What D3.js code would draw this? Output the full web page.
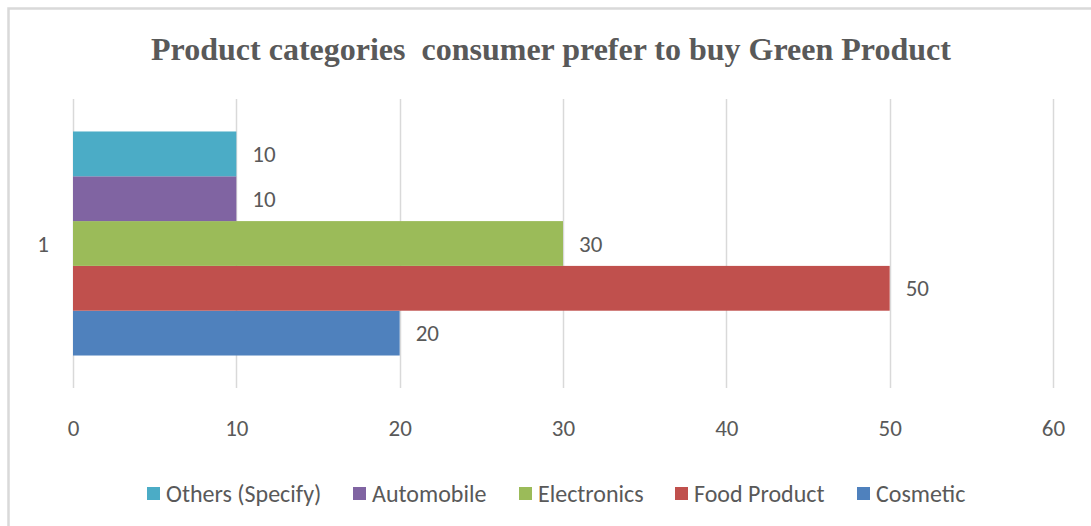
<!DOCTYPE html>
<html>
<head>
<meta charset="utf-8">
<script src="https://cdn.jsdelivr.net/npm/d3@7"></script>
<style>
  html, body { margin: 0; padding: 0; background: #fff; }
  svg { display: block; }
</style>
</head>
<body>
<svg id="chart" width="1091" height="526"></svg>
<script>
// Survey responses: product categories where consumers prefer green products
const categories = ["1"];
const seriesNames = ["Cosmetic", "Food Product", "Electronics", "Automobile", "Others (Specify)"];
const seriesValues = [20, 50, 30, 10, 10];
const seriesColors = ["#4f81bd", "#c0504d", "#9bbb59", "#8064a2", "#4bacc6"];
const xTicks = [0, 10, 20, 30, 40, 50, 60];
const titleText = "Product categories  consumer prefer to buy Green Product";

const svg = d3.select("#chart");
const textColor = "#595959";
const gridColor = "#d9d9d9";
const bodyFont = "Carlito, Calibri, 'Open Sans', sans-serif";
const bodySize = 23;
const legendSize = 24;

// Outer chart frame
svg.append("rect")
  .attr("x", 8.5).attr("y", 8.5)
  .attr("width", 1200).attr("height", 600)
  .attr("fill", "#fff")
  .attr("stroke", gridColor).attr("stroke-width", 2.5);

// Title
svg.append("text")
  .attr("x", 551).attr("y", 60)
  .attr("text-anchor", "middle")
  .style("white-space", "pre")
  .attr("font-family", "'Liberation Serif', 'Times New Roman', serif")
  .attr("font-weight", "bold")
  .attr("font-size", 32)
  .attr("fill", textColor)
  .text(titleText);

const plot = { left: 73, right: 1053, top: 99, bottom: 388 };

const x = d3.scaleLinear().domain([0, 60]).range([plot.left, plot.right]);
const y = d3.scaleBand().domain(categories).range([plot.top, plot.bottom]).paddingInner(0).paddingOuter(0.145);

// Bars inside the category band: first series at the bottom
const inner = d3.scaleBand()
  .domain(d3.range(seriesNames.length).reverse())
  .range([0, y.bandwidth()]);

// Vertical gridlines
svg.append("g")
  .selectAll("line")
  .data(xTicks)
  .join("line")
  .attr("x1", d => Math.round(x(d)) + 0.5).attr("x2", d => Math.round(x(d)) + 0.5)
  .attr("y1", plot.top).attr("y2", plot.bottom)
  .attr("stroke", gridColor).attr("stroke-width", 1.5);

// X axis tick labels
const xAxis = d3.axisBottom(x).tickValues(xTicks).tickSize(0).tickPadding(0);
const xg = svg.append("g").attr("transform", `translate(0,${plot.bottom})`).call(xAxis);
xg.select(".domain").remove();
xg.selectAll("text")
  .attr("y", 40)
  .attr("dy", "0.35em")
  .attr("font-family", bodyFont)
  .attr("font-size", bodySize)
  .attr("fill", textColor);

// Category axis label
const yAxis = d3.axisLeft(y).tickSize(0).tickPadding(0);
const yg = svg.append("g").attr("transform", `translate(${plot.left},0)`).call(yAxis);
yg.select(".domain").remove();
yg.selectAll("text")
  .attr("x", -24)
  .attr("dy", "0.35em")
  .attr("font-family", bodyFont)
  .attr("font-size", bodySize)
  .attr("fill", textColor);

// Bars
const rows = seriesNames.map((name, i) => ({ name, value: seriesValues[i], color: seriesColors[i], idx: i }));
const bars = svg.append("g");
categories.forEach(cat => {
  bars.selectAll(null)
    .data(rows)
    .join("rect")
    .attr("x", x(0))
    .attr("y", d => y(cat) + inner(d.idx))
    .attr("width", d => x(d.value) - x(0))
    .attr("height", inner.bandwidth())
    .attr("fill", d => d.color);

  // Value labels
  bars.selectAll(null)
    .data(rows)
    .join("text")
    .attr("x", d => x(d.value) + 16)
    .attr("y", d => y(cat) + inner(d.idx) + inner.bandwidth() / 2)
    .attr("dy", "0.35em")
    .attr("font-family", bodyFont)
    .attr("font-size", bodySize)
    .attr("fill", textColor)
    .text(d => d.value);
});

// Legend
const legendOrder = [4, 3, 2, 1, 0];
const legendX = [147, 353, 519, 675, 857];
const legend = svg.append("g");
legendOrder.forEach((si, k) => {
  const g = legend.append("g").attr("transform", `translate(${legendX[k]},487)`);
  g.append("rect").attr("x", 0).attr("y", 0).attr("width", 13).attr("height", 13).attr("fill", seriesColors[si]);
  g.append("text")
    .attr("x", 19).attr("y", 6.5).attr("dy", "0.35em")
    .attr("font-family", bodyFont)
    .attr("font-size", legendSize)
    .attr("fill", textColor)
    .text(seriesNames[si]);
});
</script>
</body>
</html>
